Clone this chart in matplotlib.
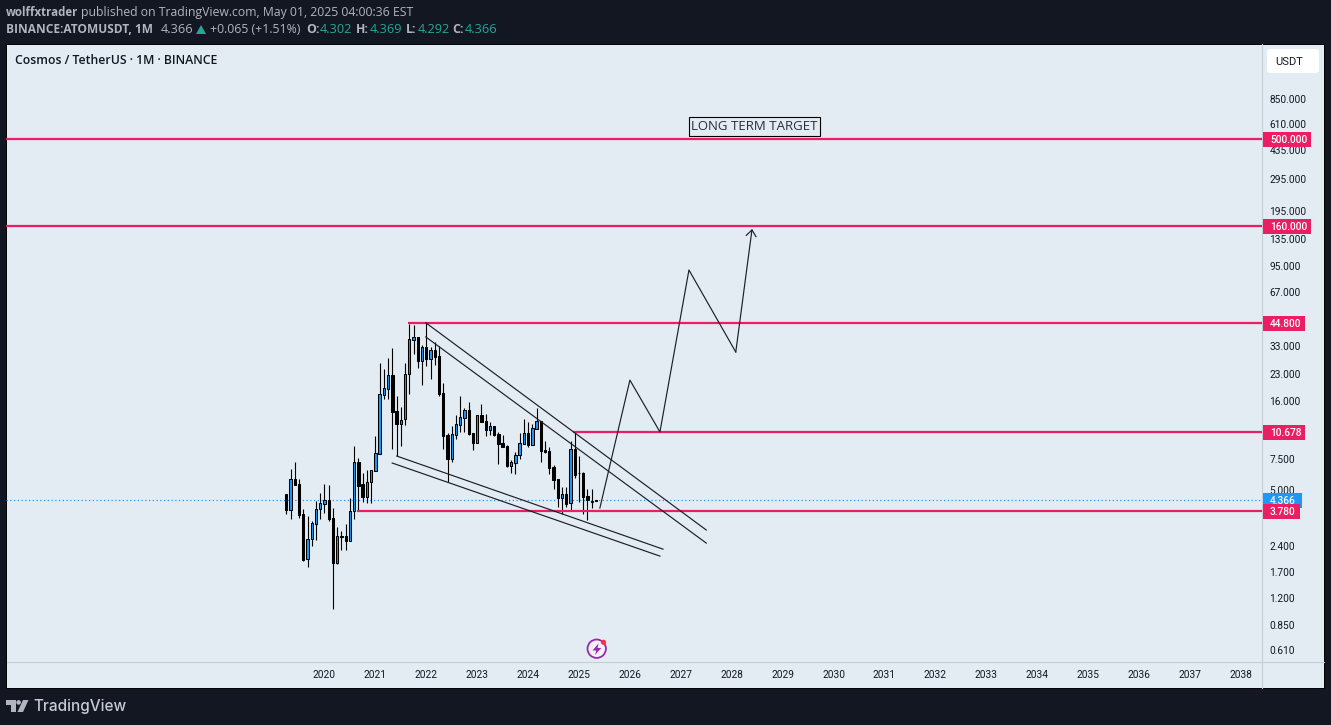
"""
plot.py -- Cosmos / TetherUS monthly chart, TradingView snapshot style.
"""
import matplotlib
matplotlib.use("Agg")
import matplotlib.pyplot as plt
from matplotlib.patches import Rectangle, Circle, Polygon, FancyBboxPatch
import numpy as np

# ── Data ──────────────────────────────────────────────────────────────────────

# monthly candles, first one is Apr 2019
START_YEAR = 2019
START_MONTH = 4

highs = [4.75, 6.56, 7.16, 5.75, 3.86, 3.54, 3.33, 4.33, 4.79, 5.39, 5.29, 3.93, 3.05,
         2.91, 3.19, 4.49, 8.88, 7.55, 6.20, 6.48, 6.48, 10.13, 26.29, 24.5, 28.2, 32.1,
         17.1, 14.75, 26.29, 44.1, 43.5, 37.3, 33.4, 44.5, 32.7, 34.6, 33.2, 20.2, 10.57,
         11.54, 13.3, 17.1, 14.55, 15.75, 10.57, 13.3, 15.4, 13.45, 12.2, 11.5, 10.7, 10.25,
         9.0, 7.38, 8.24, 10.48, 12.6, 12.2, 11.9, 14.55, 12.33, 9.48, 8.73, 6.92, 5.75,
         5.16, 5.2, 9.52, 10.7, 7.79, 6.34, 5.02, 5.02, 4.369]
lows = [3.63, 3.41, 5.32, 3.46, 1.96, 1.82, 2.39, 2.59, 3.41, 3.67, 3.33, 1.04, 1.88,
        2.27, 2.27, 2.55, 3.41, 3.83, 4.27, 4.21, 4.21, 6.42, 8.0, 16.4, 16.4, 8.5,
        7.82, 8.88, 11.7, 17.5, 29.6, 24.8, 19.9, 25.4, 21.4, 25.7, 17.2, 8.5, 5.5,
        7.2, 9.7, 10.6, 10.6, 10.25, 8.42, 9.27, 12.2, 10.13, 10.2, 10.13, 7.0, 8.76,
        6.77, 6.25, 6.15, 7.52, 9.1, 8.73, 9.0, 11.15, 7.2, 8.06, 6.18, 5.05, 4.0,
        3.63, 4.0, 3.83, 5.8, 4.27, 3.63, 3.36, 3.93, 4.292]
opens = [4.73, 3.83, 5.75, 5.39, 3.62, 2.0, 2.63, 3.2, 3.9, 4.16, 4.35, 3.44, 1.91,
         2.71, 2.72, 2.55, 3.76, 7.16, 5.39, 4.56, 5.51, 6.42, 8.03, 17.4, 18.85, 22.5,
         14.0, 11.9, 12.6, 22.8, 35.9, 37.1, 27.2, 32.4, 28.0, 31.2, 28.95, 17.7, 10.2,
         7.52, 10.3, 11.76, 12.9, 14.24, 10.48, 9.27, 13.3, 12.25, 11.0, 11.5, 10.38, 9.19,
         8.88, 6.86, 7.13, 7.85, 9.15, 10.53, 9.03, 11.15, 12.33, 8.42, 8.31, 6.74, 5.75,
         4.5, 4.73, 4.18, 8.53, 6.23, 6.23, 4.58, 4.33, 4.302]
closes = [3.83, 5.75, 5.32, 3.59, 1.99, 2.63, 3.22, 3.86, 4.18, 4.35, 3.41, 1.92, 2.71,
          2.68, 2.55, 3.76, 7.16, 5.27, 4.56, 5.51, 6.45, 8.06, 17.5, 18.9, 22.5, 13.9,
          11.9, 12.43, 22.8, 36.0, 37.1, 27.2, 32.4, 27.97, 31.2, 28.7, 17.6, 10.13, 7.52,
          10.35, 11.8, 12.94, 14.24, 10.4, 9.27, 13.3, 12.2, 10.95, 11.5, 10.25, 9.1, 8.8,
          6.83, 7.16, 7.89, 9.19, 10.48, 9.03, 11.25, 12.33, 8.35, 8.2, 6.68, 5.68, 4.5,
          4.7, 4.14, 8.5, 6.07, 6.2, 4.56, 4.35, 4.27, 4.366]

last_price = 4.366

# horizontal levels: price, first year (None = full width), tag colour text
level_prices = [500.0, 160.0, 44.8, 10.678, 3.78]
level_starts = [None, None, 2021.64, 2024.88, 2020.64]
level_labels = ["500.000", "160.000", "44.800", "10.678", "3.780"]

# wedge lines, (year, price) at both ends
upper_a_x, upper_a_y = [2021.99, 2027.50], [44.8, 2.945]
upper_b_x, upper_b_y = [2021.99, 2027.50], [37.2, 2.48]
lower_a_x, lower_a_y = [2021.42, 2026.65], [7.78, 2.29]
lower_b_x, lower_b_y = [2021.33, 2026.59], [7.10, 2.09]

# projected path
path_x = [2025.41, 2026.00, 2026.59, 2027.16, 2028.08, 2028.40]
path_y = [3.93, 21.1, 10.68, 89.6, 30.5, 153.5]

year_ticks = list(range(2020, 2039))
price_ticks = [850, 610, 435, 295, 195, 135, 95, 67, 33, 23, 16, 7.5, 5, 2.4, 1.7, 1.2, 0.85, 0.61]

# ── Style ─────────────────────────────────────────────────────────────────────

W, H = 1331, 725
DARK = "#131722"
PANEL = "#e3ebf3"
SEP = "#c6cdd6"
RED = "#e91e63"
BLUE = "#2196f3"
TEXT = "#131722"
GREY = "#b2b5be"
GREEN = "#26a69a"
LINE = "#1c1f26"
FONT = "Open Sans"

plt.rcParams["font.family"] = ["Roboto", "DejaVu Sans"]

fig = plt.figure(figsize=(W / 100, H / 100), dpi=100, facecolor=DARK)

# overlay in pixel coordinates for everything around the chart
bg = fig.add_axes([0, 0, 1, 1], zorder=0)
bg.set_xlim(0, W)
bg.set_ylim(H, 0)
bg.axis("off")
bg.add_patch(Rectangle((6, 44), 1318, 644, fc=PANEL, ec="#000000", lw=0.7))
bg.plot([1262, 1262], [44, 688], color=SEP, lw=0.8)
bg.plot([7, 1324], [662, 662], color=SEP, lw=0.8)

# ── Chart ─────────────────────────────────────────────────────────────────────

ax = fig.add_axes([6 / W, (H - 662) / H, 1256 / W, 618 / H], zorder=1)
ax.patch.set_alpha(0)
ax.set_yscale("log")
ax.set_xlim(2013.743, 2038.418)
ax.set_ylim(0.5201, 1744)
for spine in ax.spines.values():
    spine.set_visible(False)

ax.yaxis.tick_right()
ax.set_yticks(price_ticks)
ax.set_yticklabels([f"{p:.3f}" for p in price_ticks])
ax.minorticks_off()
ax.set_xticks(year_ticks)
ax.set_xticklabels([str(y) for y in year_ticks])
ax.tick_params(axis="y", length=0, pad=5.4, labelsize=7.3, labelcolor=TEXT)
ax.tick_params(axis="x", length=0, pad=5.5, labelsize=7.3, labelcolor=TEXT)

dates = np.array([START_YEAR + (START_MONTH - 1 + i) / 12 for i in range(len(opens))])
o, h, l, c = map(np.array, (opens, highs, lows, closes))
up = c >= o

ax.vlines(dates, l, h, color="#000000", lw=0.8, zorder=3)
ax.bar(dates, np.abs(c - o), bottom=np.minimum(o, c), width=0.046,
       color=np.where(up, BLUE, "#000000"), edgecolor="#000000", lw=0.75, zorder=4)

# last price dotted line
ax.axhline(last_price, color=BLUE, lw=0.9, ls=(0, (1, 2)), zorder=2)

# levels
for price, start in zip(level_prices, level_starts):
    x0 = ax.get_xlim()[0] if start is None else start
    ax.plot([x0, ax.get_xlim()[1]], [price, price], color=RED, lw=1.6, zorder=5,
            solid_capstyle="butt")

# wedge lines
for xs, ys in [(upper_a_x, upper_a_y), (upper_b_x, upper_b_y),
               (lower_a_x, lower_a_y), (lower_b_x, lower_b_y)]:
    ax.plot(xs, ys, color=LINE, lw=0.85, zorder=6)

# projected path, the last leg comes from the arrow itself
ax.plot(path_x[:-1], path_y[:-1], color=LINE, lw=0.85, zorder=6)
ax.annotate("", xy=(path_x[-1], path_y[-1]), xytext=(path_x[-2], path_y[-2]),
            arrowprops=dict(arrowstyle="->,head_length=0.45,head_width=0.36",
                            color=LINE, lw=0.85, shrinkA=0, shrinkB=0), zorder=6)


def pixel_y(price):
    return H - ax.transData.transform((0, price))[1]


# ── Overlay on top: tags, title, header, footer ───────────────────────────────

top = fig.add_axes([0, 0, 1, 1], zorder=2)
top.patch.set_alpha(0)
top.set_xlim(0, W)
top.set_ylim(H, 0)
top.axis("off")

# last price tag goes under the 3.780 tag
yp = pixel_y(last_price)
top.add_patch(Rectangle((1263, yp - 7.5), 39, 15, fc=BLUE, ec="none"))
top.text(1270, yp + 0.5, "4.366", color="white", fontsize=7.3, va="center", ha="left",
         fontweight="medium")

for price, label in zip(level_prices, level_labels):
    yp = pixel_y(price) + 0.5
    width = 48 if len(label) == 7 else (42 if len(label) == 6 else 37)
    top.add_patch(Rectangle((1263, yp - 7.5), width, 15, fc=RED, ec="none"))
    top.text(1270, yp + 0.5, label, color="white", fontsize=7.3, va="center", ha="left",
             fontweight="medium")

top.add_patch(FancyBboxPatch((1269, 51), 48, 20, boxstyle="round,pad=2,rounding_size=3",
                             fc="white", ec="none"))
top.text(1275, 61.5, "USDT", color=TEXT, fontsize=8.0, va="center", ha="left")

top.text(754.5, 126, "LONG TERM TARGET", color="#2a2e39", fontsize=9.5, va="center", ha="center",
         family=FONT)
top.add_patch(Rectangle((689, 117), 131, 19, fc="none", ec="#000000", lw=0.8))

top.text(15, 60.5, "Cosmos / TetherUS · 1M · BINANCE", color=TEXT, fontsize=8.8,
         va="center", ha="left", family=FONT, fontweight="semibold")

# header line 1
top.text(6, 12.5, "wolffxtrader", color=GREY, fontsize=8.3, va="center", family=FONT, fontweight="bold")
top.text(81, 12.5, "published on TradingView.com, May 01, 2025 04:00:36 EST", color=GREY,
         fontsize=8.8, va="center", family=FONT)

# header line 2
y2 = 29.5
top.text(6, y2, "BINANCE:ATOMUSDT, 1M", color=GREY, fontsize=8.6, va="center", family=FONT, fontweight="bold")
top.text(161, y2, "4.366", color=GREY, fontsize=9.2, va="center", family=FONT)
top.add_patch(Polygon([[196, 34], [206, 34], [201, 25]], fc=GREEN, ec="none"))
top.text(210, y2, "+0.065 (+1.51%)", color=GREY, fontsize=8.8, va="center", family=FONT)
for x_lab, lab, x_val, val in [(306, "O:", 320, "4.302"), (356, "H:", 370, "4.369"),
                               (406, "L:", 418, "4.292"), (452, "C:", 465, "4.366")]:
    top.text(x_lab, y2, lab, color=GREY, fontsize=8.8, va="center", family=FONT, fontweight="bold")
    top.text(x_val, y2, val, color=GREEN, fontsize=9.2, va="center", family=FONT)

# footer logo
top.add_patch(Polygon([[6, 700], [15.5, 700], [15.5, 712], [11, 712], [11, 704.5], [6, 704.5]],
                      fc=GREY, ec="none"))
top.add_patch(Circle((18.6, 702.4), 2.3, fc=GREY, ec="none"))
top.add_patch(Polygon([[23, 700], [28.5, 700], [23, 712], [17.5, 712]], fc=GREY, ec="none"))
top.text(33, 706.5, "TradingView", color="#c8cbd3", fontsize=11.0, va="center", ha="left",
         family="Inter", fontweight="medium")

# lightning badge
top.add_patch(Circle((596.7, 648.7), 9.2, fc="#f4f2f8", ec="#9c27b0", lw=1.3))
top.add_patch(Polygon([[598.5, 643.5], [592.5, 650.5], [596.3, 650.5], [595, 655],
                       [601.3, 648], [597.6, 648]], fc="#9c27b0", ec="none"))
top.add_patch(Circle((603.5, 642.3), 2.6, fc="#f23645", ec="none"))

fig.savefig("out.png", dpi=100, facecolor=DARK)
plt.close()
